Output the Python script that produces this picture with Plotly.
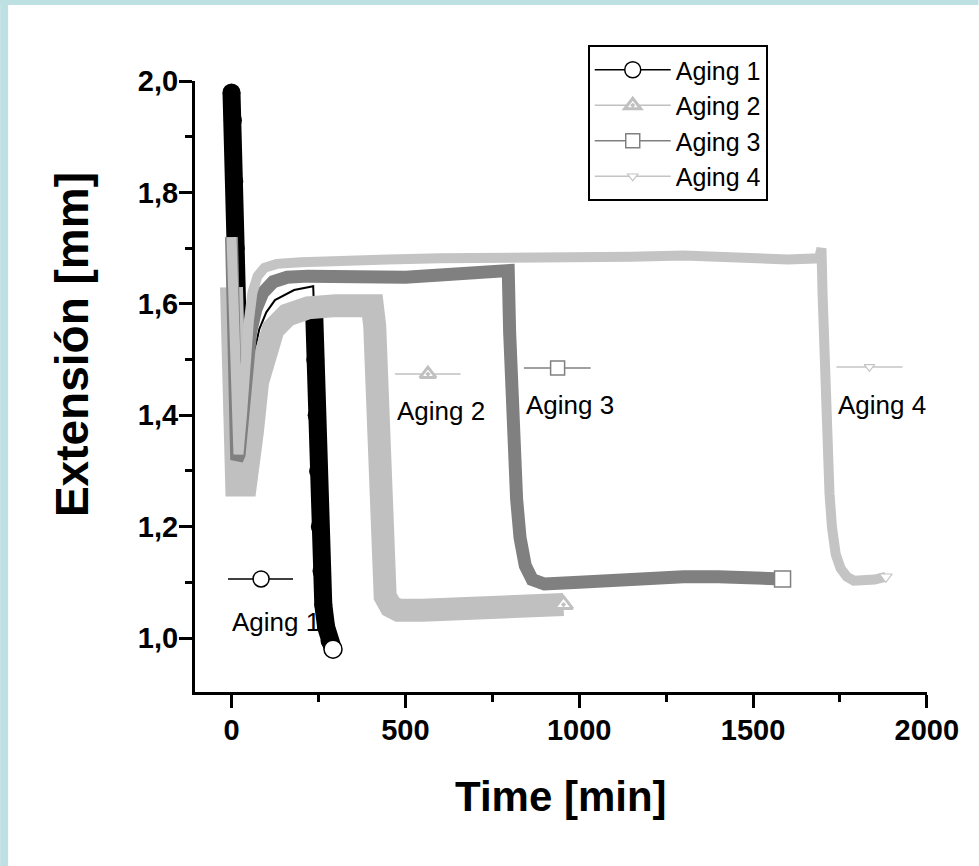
import plotly.graph_objects as go

W, H = 979, 866
ML, MR, MT, MB = 195, 51.5, 81, 174
PW, PH = W - ML - MR, H - MT - MB

# ---------------- data ----------------
a1_t = [0, 4, 8, 12, 16, 20, 26, 40, 60, 80, 100, 125, 180, 235, 238, 241, 245, 249, 254, 259, 264, 272, 282, 292]
a1_y = [1.98, 1.93, 1.82, 1.70, 1.60, 1.53, 1.46, 1.44, 1.50, 1.555, 1.585, 1.607, 1.625, 1.632, 1.58, 1.50, 1.40, 1.30, 1.20, 1.12, 1.06, 1.02, 0.995, 0.98]

a2_t = [0, 4, 8, 15, 40, 50, 60, 75, 95, 120, 160, 220, 300, 380, 405, 412, 416, 419, 422, 426, 432, 442, 458, 480, 550, 650, 750, 850, 955]
a2_y = [1.63, 1.45, 1.32, 1.275, 1.275, 1.31, 1.37, 1.46, 1.52, 1.555, 1.58, 1.593, 1.597, 1.598, 1.597, 1.56, 1.45, 1.35, 1.25, 1.17, 1.11, 1.075, 1.057, 1.05, 1.05, 1.055, 1.06, 1.063, 1.06]

a3_t = [0, 5, 10, 15, 22, 30, 40, 55, 70, 90, 120, 160, 220, 300, 400, 500, 600, 700, 790, 796, 800, 805, 812, 820, 830, 845, 865, 900, 1000, 1100, 1200, 1300, 1400, 1500, 1585]
a3_y = [1.72, 1.55, 1.40, 1.32, 1.33, 1.40, 1.48, 1.55, 1.59, 1.62, 1.64, 1.648, 1.65, 1.648, 1.645, 1.648, 1.652, 1.655, 1.66, 1.66, 1.55, 1.45, 1.35, 1.25, 1.18, 1.13, 1.105, 1.097, 1.10, 1.105, 1.11, 1.11, 1.11, 1.108, 1.106]

a4_t = [0, 4, 8, 12, 20, 30, 40, 50, 60, 75, 95, 130, 200, 300, 450, 600, 800, 1000, 1150, 1300, 1450, 1600, 1690, 1697, 1700, 1704, 1709, 1714, 1720, 1727, 1738, 1752, 1770, 1790, 1820, 1850, 1882]
a4_y = [1.72, 1.60, 1.48, 1.38, 1.33, 1.40, 1.50, 1.57, 1.62, 1.65, 1.665, 1.672, 1.675, 1.678, 1.68, 1.682, 1.682, 1.685, 1.685, 1.687, 1.683, 1.68, 1.682, 1.70, 1.62, 1.52, 1.42, 1.33, 1.26, 1.20, 1.15, 1.125, 1.11, 1.103, 1.102, 1.105, 1.11]

names = ["Aging 1", "Aging 2", "Aging 3", "Aging 4"]

# inline label positions (data units)
lab_text_t = [-4, 470, 841, 1740]
lab_text_y = [1.029, 1.408, 1.418, 1.418]
key_t0 = [-10, 470, 841, 1740]
key_t1 = [177, 659, 1033, 1930]
key_tm = [85, 565, 938, 1835]
key_y = [1.106, 1.474, 1.485, 1.487]

# ---------------- styles ----------------
colors = ["#000000", "#c0c0c0", "#808080", "#c4c4c4"]
band_w = [18, 23, 13, 10]
symbols = ["circle", "triangle-up-dot", "square", "triangle-down"]
msize = [16, 14, 14, 9]
mline = [1.5, 3, 1.5, 1.2]

FONT = "Liberation Sans, Arial, Helvetica, sans-serif"

fig = go.Figure()

series = [(a1_t, a1_y), (a2_t, a2_y), (a3_t, a3_y), (a4_t, a4_y)]

for i, (t, y) in enumerate(series):
    if i == 0:
        fig.add_trace(go.Scatter(x=t, y=y, mode="lines", line=dict(color=colors[i], width=2),
                                 showlegend=False, hoverinfo="skip"))
        yb = [v if (tt < 30 or tt > 236) else None for tt, v in zip(t, y)]
        fig.add_trace(go.Scatter(x=t, y=yb, mode="lines+markers",
                                 line=dict(color=colors[i], width=band_w[i]),
                                 marker=dict(symbol="circle", size=band_w[i], color=colors[i]),
                                 connectgaps=False, showlegend=False, hoverinfo="skip"))
    else:
        fig.add_trace(go.Scatter(x=t, y=y, mode="lines", line=dict(color=colors[i], width=band_w[i]),
                                 showlegend=False, hoverinfo="skip"))
    fig.add_trace(go.Scatter(x=[t[-1]], y=[y[-1]], mode="markers",
                             marker=dict(symbol=symbols[i], size=msize[i] + 2, color="white",
                                         line=dict(color=colors[i], width=mline[i])),
                             showlegend=False, hoverinfo="skip"))

for i in range(4):
    fig.add_trace(go.Scatter(x=[None], y=[None], mode="lines+markers", name=names[i],
                             line=dict(color=colors[i], width=1.5),
                             marker=dict(symbol=symbols[i], size=msize[i], color="white",
                                         line=dict(color=colors[i], width=mline[i]))))

for i in range(4):
    fig.add_trace(go.Scatter(x=[key_t0[i], key_t1[i]], y=[key_y[i], key_y[i]], mode="lines",
                             line=dict(color=colors[i], width=1.5), showlegend=False, hoverinfo="skip"))
    fig.add_trace(go.Scatter(x=[key_tm[i]], y=[key_y[i]], mode="markers",
                             marker=dict(symbol=symbols[i], size=msize[i], color="white",
                                         line=dict(color=colors[i], width=mline[i])),
                             showlegend=False, hoverinfo="skip"))
    fig.add_annotation(x=lab_text_t[i], y=lab_text_y[i], xref="x", yref="y", text=names[i],
                       showarrow=False, xanchor="left", yanchor="middle",
                       font=dict(family=FONT, size=26, color="black"))

def pxx(px):
    return (px - ML) / PW

def pyy(py):
    return (H - MB - py) / PH

fig.add_annotation(x=pxx(72), y=pyy(345), xref="paper", yref="paper", text="Extensión [mm]",
                   textangle=-90, showarrow=False, xanchor="center", yanchor="middle",
                   font=dict(family=FONT, size=46, color="black", weight="bold"))
fig.add_annotation(x=pxx(561), y=pyy(797), xref="paper", yref="paper", text="Time [min]",
                   showarrow=False, xanchor="center", yanchor="middle",
                   font=dict(family=FONT, size=42, color="black", weight="bold"))

fig.add_shape(type="rect", xref="paper", yref="paper", x0=pxx(0), x1=pxx(8), y0=pyy(H), y1=pyy(0),
              fillcolor="#bde0e3", line=dict(width=0), layer="below")
fig.add_shape(type="rect", xref="paper", yref="paper", x0=pxx(0), x1=pxx(W), y0=pyy(5), y1=pyy(0),
              fillcolor="#bde0e3", line=dict(width=0), layer="below")

axis_common = dict(showline=True, linewidth=3, linecolor="black", mirror=False,
                   ticks="outside", ticklen=13, tickwidth=3, tickcolor="black",
                   showgrid=False, zeroline=False,
                   tickfont=dict(family=FONT, size=29, color="black", weight="bold"))

fig.update_xaxes(range=[-105, 2000.5], tick0=0, dtick=500, tickformat="d", ticklabelstandoff=-3,
                 minor=dict(dtick=250, tick0=0, ticklen=7, tickwidth=3, tickcolor="black", ticks="outside"),
                 **axis_common)
fig.update_yaxes(range=[0.903, 2.0005], tick0=1.0, dtick=0.2, tickformat=".1f", ticklabelstandoff=-5,
                 minor=dict(dtick=0.1, tick0=1.0, ticklen=7, tickwidth=3, tickcolor="black", ticks="outside"),
                 **axis_common)

fig.update_layout(
    width=W, height=H,
    margin=dict(l=ML, r=MR, t=MT, b=MB, pad=0),
    paper_bgcolor="white", plot_bgcolor="white",
    separators=",.",
    font=dict(family=FONT, color="black"),
    legend=dict(x=pxx(588), y=pyy(45), xanchor="left", yanchor="top",
                bgcolor="white", bordercolor="black", borderwidth=2,
                font=dict(family=FONT, size=25, color="black"),
                itemwidth=76, tracegroupgap=0),
)

fig.write_html("out.html", config={"displayModeBar": False},
               post_script="document.body.style.margin='0px';document.body.style.overflow='hidden';")
